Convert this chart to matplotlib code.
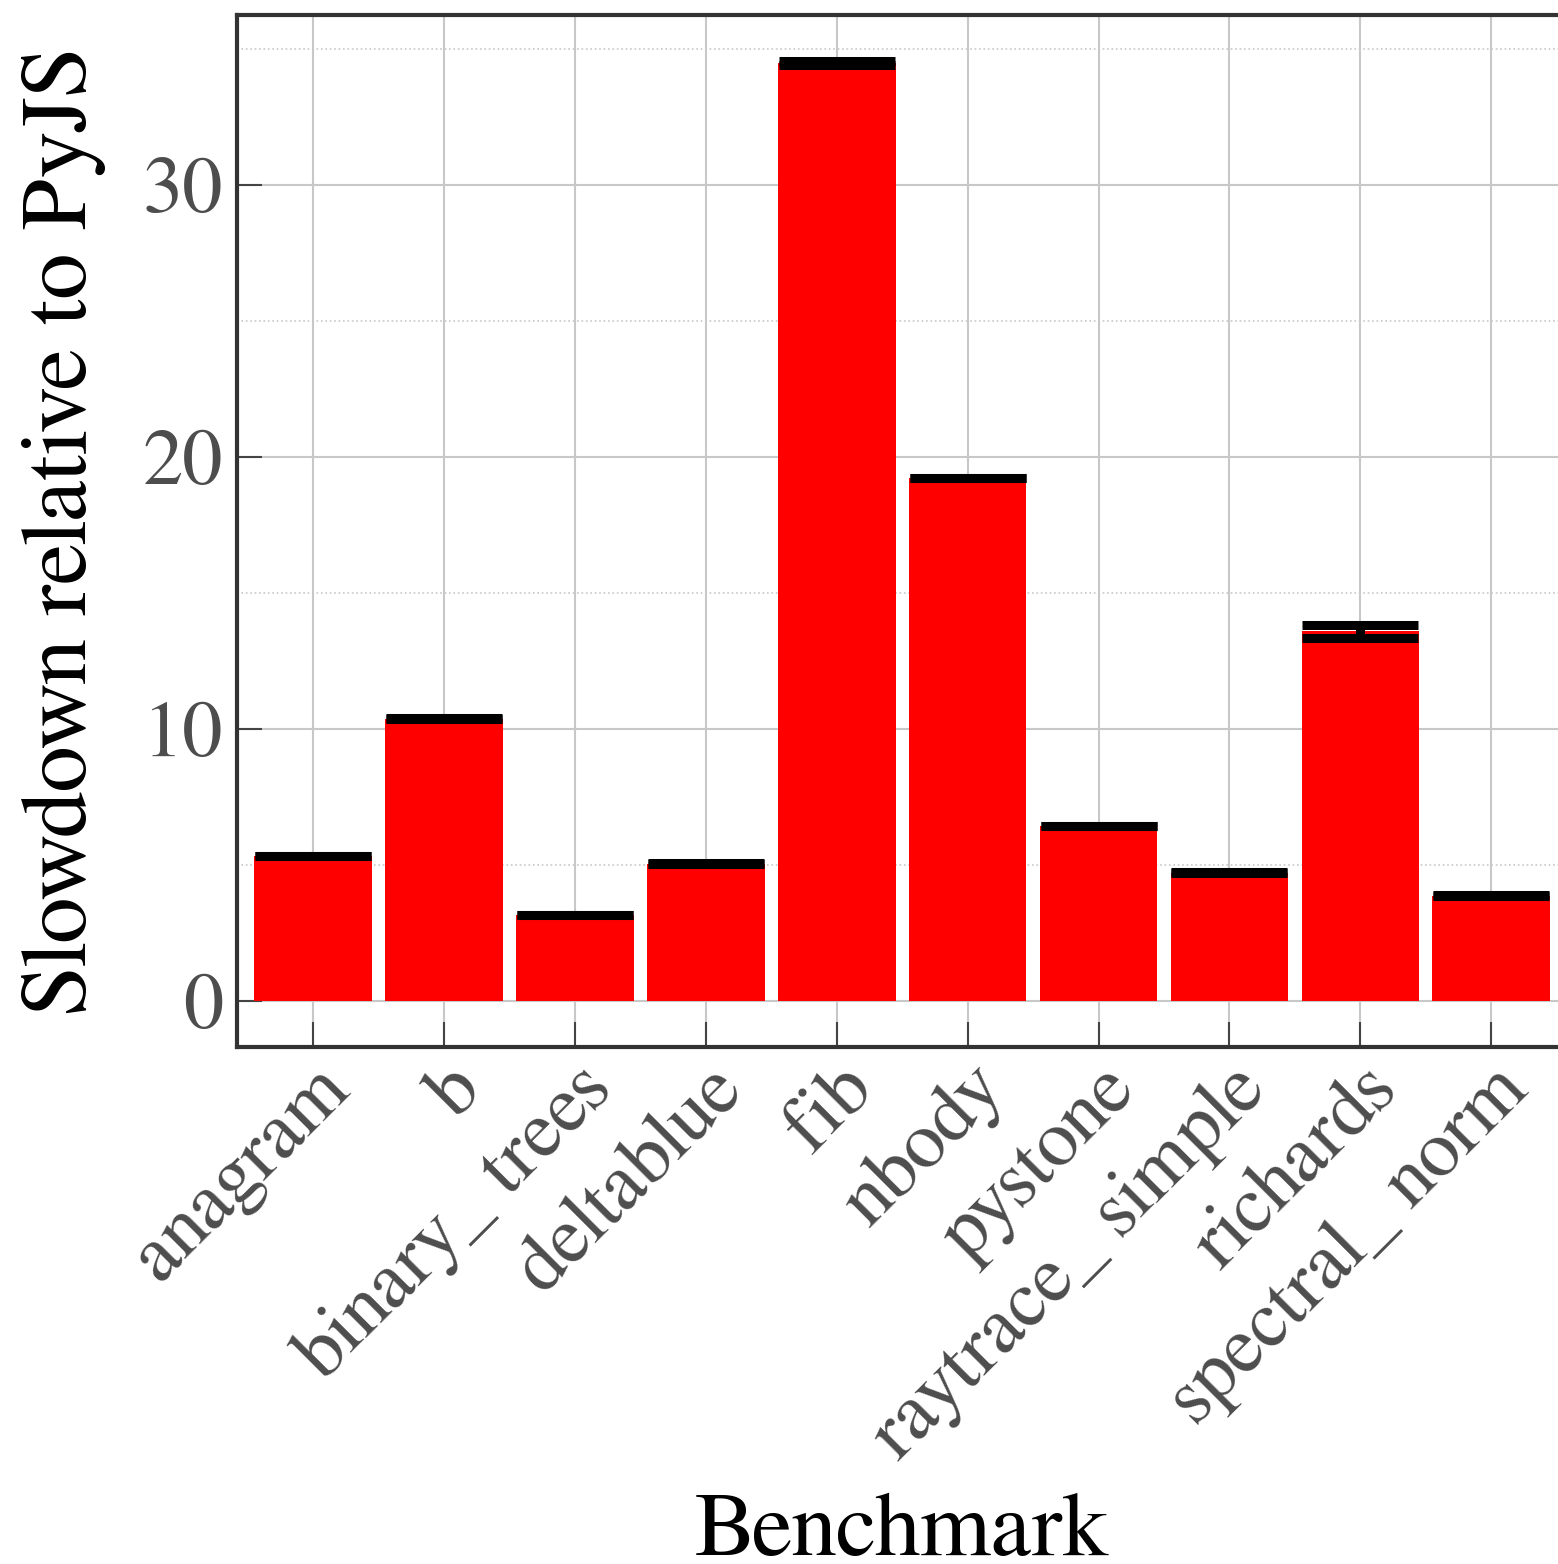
import matplotlib
matplotlib.use('Agg')
import matplotlib.pyplot as plt
from matplotlib.ticker import MultipleLocator

benchmarks = ["anagram", "b", "binary_ trees", "deltablue", "fib", "nbody",
              "pystone", "raytrace_ simple", "richards", "spectral_ norm"]
slowdown = [5.32, 10.37, 3.16, 5.04, 34.5, 19.23, 6.43, 4.71, 13.58, 3.86]
errors = [0.01, 0.01, 0.01, 0.01, 0.07, 0.01, 0.01, 0.01, 0.25, 0.01]

plt.rcParams['font.family'] = ['FreeSerif', 'Liberation Serif', 'DejaVu Serif']

fig = plt.figure(figsize=(15.58, 15.64), dpi=100)
ax = fig.add_axes([0.152, 0.3306, 0.854, 0.6598])

xs = list(range(len(benchmarks)))
ax.bar(xs, slowdown, width=0.9, color='#ff0000', zorder=2)
ax.errorbar(xs, slowdown, yerr=errors, fmt='none', ecolor='black',
            elinewidth=6.5, capsize=42, capthick=6.5, zorder=3)

ax.set_xlim(-0.58, 9.58)
ax.set_ylim(-1.7, 36.25)
ax.yaxis.set_major_locator(MultipleLocator(10))
ax.yaxis.set_minor_locator(MultipleLocator(5))
ax.set_xticks(xs)
ax.set_xticklabels(benchmarks, rotation=45, ha='right', va='top',
                   rotation_mode='anchor')

ax.grid(True, which='major', color='#c8c8c8', linewidth=1.5, zorder=0)
ax.grid(True, which='minor', axis='y', color='#c8c8c8', linewidth=1.2,
        linestyle=':', zorder=0)
ax.set_axisbelow(True)

ax.tick_params(which='major', direction='in', length=18, width=1.5,
               color='#444444', labelsize=58, labelcolor='#4d4d4d', pad=10)
ax.tick_params(which='minor', length=0)
ax.tick_params(axis='x', pad=4)

for side in ['left', 'top', 'bottom', 'right']:
    ax.spines[side].set_linewidth(3)
    ax.spines[side].set_color('#333333')

ax.set_xlabel("Benchmark", fontsize=66, labelpad=14)
ax.set_ylabel("Slowdown relative to PyJS", fontsize=67, labelpad=26)

fig.savefig("out.png", dpi=100)
